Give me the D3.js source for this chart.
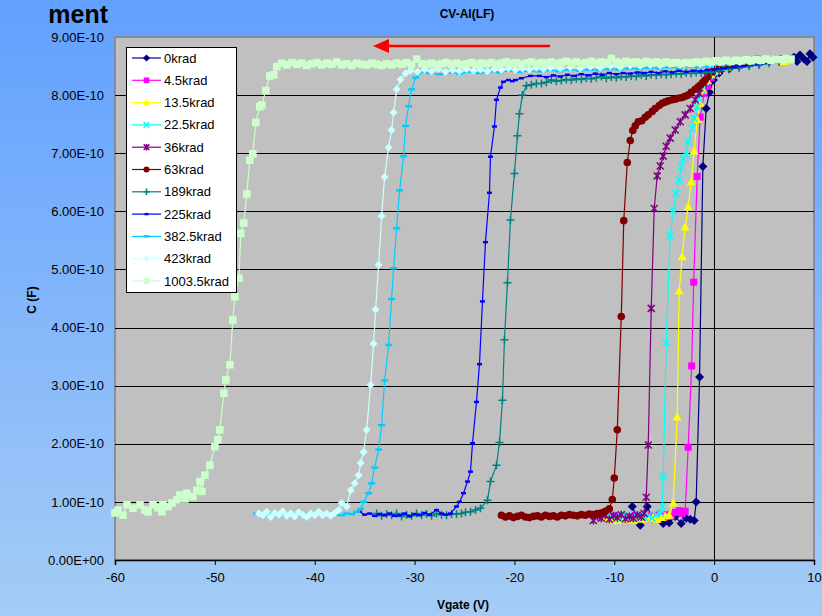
<!DOCTYPE html>
<html><head><meta charset="utf-8">
<script src="https://cdn.jsdelivr.net/npm/d3@7"></script>
<style>body{margin:0;overflow:hidden;background:#8ab8f8;} svg{display:block;} text{font-family:Arial,"Liberation Sans",sans-serif;}</style>
</head><body>
<svg id="c" width="822" height="616"></svg>
<script>
// ---------------- data (C in units of 1e-10 F, V in volts) ----------------
const seriesNames = ["0krad","4.5krad","13.5krad","22.5krad","36krad","63krad","189krad","225krad","382.5krad","423krad","1003.5krad"];
const seriesColors = ["#000080","#FF00FF","#FFFF00","#00FFFF","#800080","#800000","#008080","#0000FF","#00CCFF","#CCFFFF","#CCFFCC"];
const seriesMarkers = ["diamond","square","triangle","x","star","circle","plus","dashS","dashL","diamondS","squareL"];
const xTicks = [-60,-50,-40,-30,-20,-10,0,10];
const xTickLabels = ["-60","-50","-40","-30","-20","-10","0","10"];
const yTicks = [0,1,2,3,4,5,6,7,8,9];
const yTickLabels = ["0.00E+00","1.00E-10","2.00E-10","3.00E-10","4.00E-10","5.00E-10","6.00E-10","7.00E-10","8.00E-10","9.00E-10"];

const d0krad = [[-8.2,0.92],[-7.4,0.60],[-6.7,0.92],[-6.2,0.72],[-5.6,0.78],[-5.1,0.63],[-4.5,0.64],[-3.9,0.75],[-3.3,0.63],[-2.8,0.72],[-2.4,0.70],[-2.0,0.68],[-1.8,1.00],[-1.46,3.15],[-1.13,6.77],[-0.8,7.77],[-0.47,8.05],[-0.07,8.26],[0.5,8.38],[1.5,8.45],[2.5,8.50],[3.5,8.53],[4.5,8.55],[5.5,8.58],[6.5,8.60],[7.3,8.62],[8.0,8.65],[8.3,8.58],[8.6,8.69],[9.0,8.62],[9.3,8.58],[9.6,8.71],[9.9,8.65]];
const d4_5krad = [[-10.7,0.74],[-10.3,0.71],[-9.9,0.76],[-9.5,0.72],[-9.1,0.75],[-8.7,0.70],[-8.3,0.74],[-7.9,0.77],[-7.5,0.72],[-7.1,0.75],[-6.7,0.71],[-6.3,0.76],[-5.9,0.73],[-5.5,0.77],[-5.1,0.74],[-4.7,0.78],[-4.3,0.75],[-3.9,0.82],[-3.5,0.85],[-3.2,0.80],[-2.9,0.84],[-2.6,1.94],[-2.25,3.34],[-2.05,4.78],[-1.7,6.60],[-1.4,7.62],[-1.0,8.03],[-0.67,8.15],[-0.3,8.30],[0.3,8.42],[1.3,8.48],[2.3,8.52],[3.3,8.55],[4.3,8.62],[5.3,8.60],[6.3,8.63],[7.2,8.60]];
const d13_5krad = [[-10.9,0.74],[-10.5,0.70],[-10.1,0.73],[-9.7,0.68],[-9.3,0.72],[-8.9,0.70],[-8.5,0.74],[-8.1,0.69],[-7.7,0.73],[-7.3,0.70],[-6.9,0.75],[-6.5,0.71],[-6.1,0.74],[-5.7,0.70],[-5.3,0.73],[-4.9,0.76],[-4.5,0.77],[-4.1,0.98],[-3.7,2.46],[-3.5,4.63],[-3.2,5.22],[-2.9,5.73],[-2.6,6.08],[-2.3,6.51],[-2.0,7.04],[-1.7,7.58],[-1.4,7.86],[-1.1,8.09],[-0.7,8.25],[-0.3,8.35],[0.3,8.42],[1.3,8.48],[2.3,8.52],[3.3,8.55],[4.3,8.57],[5.3,8.60],[6.3,8.62],[7.0,8.58],[7.6,8.60]];
const d22_5krad = [[-10.6,0.78],[-10.2,0.72],[-9.8,0.76],[-9.4,0.70],[-9.0,0.77],[-8.6,0.73],[-8.2,0.75],[-7.8,0.71],[-7.4,0.77],[-7.0,0.73],[-6.6,0.76],[-6.2,0.72],[-5.8,0.78],[-5.4,0.80],[-5.2,0.92],[-5.1,1.43],[-4.8,3.74],[-4.4,5.58],[-4.1,6.02],[-3.8,6.31],[-3.5,6.54],[-3.3,6.77],[-3.1,6.91],[-2.8,6.97],[-2.6,7.20],[-2.2,7.43],[-2.0,7.60],[-1.7,7.80],[-1.5,7.94],[-1.2,8.09],[-0.9,8.23],[-0.5,8.34],[0.0,8.40],[1.0,8.46],[2.0,8.50],[3.0,8.52],[4.0,8.55],[5.0,8.57],[6.0,8.60]];
const d36krad = [[-12.1,0.68],[-11.7,0.75],[-11.3,0.72],[-10.9,0.77],[-10.5,0.70],[-10.1,0.76],[-9.7,0.73],[-9.3,0.78],[-8.9,0.71],[-8.5,0.75],[-8.1,0.72],[-7.7,0.77],[-7.3,0.74],[-7.0,0.80],[-6.8,1.08],[-6.6,1.98],[-6.3,4.33],[-6.0,6.05],[-5.7,6.61],[-5.4,6.78],[-5.1,6.95],[-4.8,7.12],[-4.4,7.26],[-3.9,7.40],[-3.4,7.54],[-2.9,7.66],[-2.4,7.77],[-1.9,7.92],[-1.5,8.03],[-1.1,8.20],[-0.7,8.32],[-0.3,8.40],[0.5,8.46],[1.5,8.50],[2.5,8.52],[3.5,8.55],[4.5,8.58],[5.5,8.60],[6.5,8.62]];
const d63krad = [[-21.3,0.77],[-20.9,0.74],[-20.5,0.76],[-20.1,0.73],[-19.7,0.75],[-19.3,0.77],[-18.9,0.74],[-18.5,0.73],[-18.1,0.75],[-17.7,0.76],[-17.3,0.74],[-16.9,0.77],[-16.5,0.75],[-16.1,0.76],[-15.7,0.74],[-15.3,0.77],[-14.9,0.76],[-14.5,0.78],[-14.1,0.77],[-13.7,0.76],[-13.3,0.78],[-12.9,0.77],[-12.5,0.79],[-12.1,0.78],[-11.7,0.80],[-11.3,0.81],[-10.9,0.84],[-10.5,0.88],[-10.2,1.04],[-10.0,1.41],[-9.7,2.24],[-9.3,4.19],[-9.05,5.84],[-8.7,6.84],[-8.4,7.22],[-8.15,7.39],[-7.9,7.47],[-7.6,7.54],[-7.25,7.56],[-6.9,7.62],[-6.6,7.66],[-6.2,7.72],[-5.9,7.77],[-5.5,7.82],[-5.2,7.86],[-4.9,7.88],[-4.6,7.90],[-4.2,7.92],[-3.9,7.93],[-3.5,7.95],[-3.2,7.96],[-2.9,7.98],[-2.6,8.00],[-2.3,8.05],[-1.9,8.10],[-1.6,8.14],[-1.4,8.17],[-1.1,8.22],[-0.9,8.26],[-0.6,8.33],[-0.2,8.40],[0.5,8.45],[1.5,8.50],[2.5,8.52],[3.5,8.55],[4.5,8.57],[5.5,8.60],[6.5,8.62],[7.5,8.63]];
const d189krad = [[-33.8,0.80],[-33.3,0.76],[-32.8,0.79],[-32.3,0.77],[-31.8,0.80],[-31.3,0.75],[-30.8,0.78],[-30.3,0.76],[-29.8,0.80],[-29.3,0.77],[-28.8,0.79],[-28.3,0.76],[-27.8,0.80],[-27.3,0.78],[-26.8,0.77],[-26.3,0.79],[-25.8,0.79],[-25.3,0.80],[-24.9,0.82],[-24.4,0.83],[-23.9,0.86],[-23.4,0.89],[-22.7,1.03],[-22.4,1.35],[-21.8,1.63],[-21.5,2.02],[-21.2,2.75],[-21.0,3.79],[-20.7,4.77],[-20.4,5.85],[-20.0,6.65],[-19.7,7.30],[-19.5,7.68],[-19.2,8.00],[-18.8,8.16],[-18.3,8.18],[-17.8,8.20],[-17.3,8.20],[-16.8,8.22],[-16.3,8.26],[-15.8,8.24],[-15.3,8.25],[-14.8,8.27],[-14.3,8.26],[-13.8,8.28],[-13.3,8.27],[-12.8,8.29],[-12.3,8.28],[-11.8,8.30],[-11.3,8.32],[-10.8,8.29],[-10.3,8.31],[-9.8,8.30],[-9.3,8.32],[-8.8,8.31],[-8.3,8.33],[-7.8,8.32],[-7.3,8.35],[-6.8,8.33],[-6.3,8.35],[-5.8,8.34],[-5.3,8.36],[-4.8,8.35],[-4.3,8.36],[-3.8,8.37],[-3.3,8.36],[-2.8,8.38],[-2.3,8.37],[-1.8,8.39],[-1.3,8.38],[-0.8,8.40],[-0.3,8.39],[0.5,8.42],[1.5,8.45],[2.5,8.47],[3.5,8.50],[4.5,8.52],[5.5,8.55],[6.5,8.57]];
const d225krad = [[-35.5,0.83],[-35.0,0.78],[-34.5,0.80],[-34.0,0.76],[-33.5,0.79],[-33.0,0.77],[-32.5,0.80],[-32.0,0.76],[-31.5,0.77],[-31.0,0.80],[-30.5,0.75],[-30.0,0.79],[-29.5,0.77],[-29.0,0.81],[-28.5,0.78],[-27.8,0.86],[-27.3,0.80],[-26.9,0.78],[-26.4,0.80],[-25.8,0.92],[-25.5,1.00],[-25.1,1.15],[-24.7,1.35],[-24.4,1.52],[-24.2,2.01],[-23.8,2.72],[-23.5,3.37],[-23.2,4.45],[-22.9,5.47],[-22.5,6.32],[-22.4,6.94],[-22.0,7.46],[-21.8,7.92],[-21.4,8.13],[-21.1,8.23],[-20.6,8.26],[-20.2,8.24],[-19.9,8.26],[-19.3,8.29],[-18.4,8.33],[-17.5,8.33],[-16.8,8.31],[-16.1,8.34],[-15.4,8.32],[-14.7,8.35],[-14.0,8.33],[-13.3,8.36],[-12.6,8.34],[-11.9,8.37],[-11.2,8.35],[-10.5,8.38],[-9.8,8.36],[-9.1,8.38],[-8.4,8.37],[-7.7,8.39],[-7.0,8.38],[-6.3,8.40],[-5.6,8.38],[-4.9,8.41],[-4.2,8.39],[-3.5,8.42],[-2.8,8.40],[-2.1,8.42],[-1.4,8.41],[-0.7,8.43],[0.0,8.44],[1.0,8.46],[2.0,8.48],[3.0,8.50],[4.0,8.53],[5.0,8.55],[6.0,8.57]];
const d382_5krad = [[-45.8,0.80],[-45.3,0.77],[-44.8,0.78],[-44.3,0.80],[-43.8,0.76],[-43.3,0.79],[-42.8,0.77],[-42.3,0.80],[-41.8,0.78],[-41.3,0.76],[-40.8,0.79],[-40.3,0.77],[-39.8,0.80],[-39.3,0.78],[-38.8,0.76],[-38.3,0.79],[-37.8,0.78],[-37.3,0.77],[-36.8,0.80],[-36.3,0.79],[-35.8,0.83],[-35.4,0.88],[-35.1,1.00],[-34.6,1.15],[-34.3,1.32],[-34.0,1.59],[-33.6,1.90],[-33.3,2.32],[-33.0,3.09],[-32.6,3.70],[-32.3,4.49],[-32.1,5.02],[-31.8,5.71],[-31.5,6.36],[-31.1,6.95],[-30.9,7.47],[-30.6,7.81],[-30.3,8.10],[-29.9,8.30],[-29.2,8.40],[-28.5,8.38],[-27.5,8.36],[-26.5,8.39],[-25.5,8.37],[-24.5,8.40],[-23.5,8.38],[-22.5,8.41],[-21.5,8.39],[-20.5,8.42],[-19.5,8.40],[-18.5,8.42],[-17.5,8.41],[-16.5,8.43],[-15.5,8.41],[-14.5,8.44],[-13.5,8.42],[-12.5,8.44],[-11.5,8.43],[-10.5,8.45],[-9.5,8.44],[-8.5,8.46],[-7.5,8.45],[-6.5,8.47],[-5.5,8.46],[-4.5,8.48],[-3.5,8.47],[-2.5,8.49],[-1.5,8.48],[-0.5,8.50],[0.5,8.52],[1.5,8.53],[2.5,8.55],[3.5,8.56],[4.5,8.58]];
const d423krad = [[-45.6,0.80],[-45.2,0.77],[-44.8,0.83],[-44.4,0.74],[-44.0,0.81],[-43.6,0.78],[-43.2,0.84],[-42.8,0.76],[-42.4,0.80],[-42.0,0.75],[-41.6,0.82],[-41.2,0.78],[-40.8,0.74],[-40.4,0.80],[-40.0,0.77],[-39.6,0.83],[-39.2,0.77],[-38.8,0.80],[-38.4,0.76],[-38.0,0.81],[-37.6,0.86],[-37.3,0.98],[-36.8,0.92],[-36.4,1.20],[-36.0,1.32],[-35.6,1.46],[-35.4,1.67],[-35.1,1.86],[-34.8,2.24],[-34.4,3.01],[-34.1,3.72],[-33.9,4.31],[-33.6,5.08],[-33.3,5.92],[-33.0,6.59],[-32.6,7.10],[-32.3,7.40],[-32.1,7.70],[-31.8,8.10],[-31.4,8.27],[-30.9,8.37],[-30.4,8.42],[-29.7,8.40],[-29.0,8.44],[-28.3,8.41],[-27.6,8.45],[-26.9,8.40],[-26.2,8.43],[-25.5,8.41],[-24.8,8.45],[-24.1,8.42],[-23.4,8.44],[-22.7,8.41],[-22.0,8.45],[-21.3,8.43],[-20.6,8.46],[-19.9,8.43],[-19.2,8.46],[-18.5,8.44],[-17.8,8.47],[-17.1,8.45],[-16.4,8.47],[-15.4,8.46],[-14.4,8.48],[-13.4,8.46],[-12.4,8.49],[-11.4,8.47],[-10.4,8.50],[-9.4,8.48],[-8.4,8.51],[-7.4,8.50],[-6.4,8.52],[-5.4,8.51],[-4.4,8.53],[-3.4,8.52],[-2.4,8.54],[-1.4,8.53],[-0.4,8.55],[0.6,8.56],[1.6,8.57],[2.6,8.57],[3.6,8.58],[4.6,8.59],[5.6,8.60]];
const d1003_5krad = [[-60.0,0.81],[-59.7,0.86],[-59.2,0.77],[-58.8,0.95],[-58.2,0.89],[-57.5,0.95],[-57.0,0.86],[-56.7,0.83],[-56.2,0.95],[-55.7,0.90],[-55.3,0.83],[-55.2,0.95],[-54.7,0.92],[-54.3,0.98],[-53.8,1.04],[-53.5,1.12],[-53.0,1.05],[-52.8,1.15],[-52.2,1.09],[-51.8,1.20],[-51.5,1.35],[-51.3,1.18],[-51.0,1.46],[-50.5,1.63],[-50.0,1.95],[-49.7,2.07],[-49.5,2.24],[-49.1,2.87],[-48.9,3.10],[-48.5,3.36],[-48.2,4.13],[-48.0,4.53],[-47.6,4.85],[-47.4,5.62],[-47.1,5.80],[-46.8,6.30],[-46.5,6.88],[-46.2,6.99],[-45.9,7.53],[-45.5,7.80],[-45.3,7.83],[-44.9,8.08],[-44.5,8.33],[-44.1,8.35],[-43.8,8.49],[-43.3,8.55],[-42.8,8.52],[-42.3,8.56],[-41.8,8.53],[-41.3,8.55],[-40.8,8.51],[-40.3,8.54],[-39.8,8.56],[-39.3,8.52],[-38.8,8.55],[-38.3,8.53],[-37.8,8.57],[-37.3,8.52],[-36.8,8.54],[-36.3,8.51],[-35.8,8.55],[-35.3,8.53],[-34.8,8.52],[-34.3,8.55],[-33.8,8.53],[-33.3,8.51],[-32.8,8.54],[-32.3,8.52],[-31.8,8.55],[-31.3,8.53],[-30.8,8.56],[-30.3,8.52],[-29.8,8.62],[-29.3,8.54],[-28.8,8.53],[-28.3,8.55],[-27.8,8.52],[-27.3,8.54],[-26.8,8.56],[-26.3,8.53],[-25.8,8.55],[-25.3,8.52],[-24.8,8.54],[-24.3,8.56],[-23.8,8.53],[-23.3,8.55],[-22.8,8.54],[-22.3,8.56],[-21.8,8.53],[-21.3,8.55],[-20.8,8.57],[-20.3,8.54],[-19.8,8.56],[-19.3,8.53],[-18.8,8.55],[-18.3,8.57],[-17.8,8.54],[-17.3,8.56],[-16.8,8.55],[-16.3,8.57],[-15.8,8.54],[-15.3,8.56],[-14.8,8.58],[-14.3,8.55],[-13.8,8.57],[-13.3,8.54],[-12.8,8.56],[-12.3,8.58],[-11.8,8.55],[-11.3,8.57],[-10.8,8.56],[-10.3,8.63],[-9.8,8.57],[-9.3,8.55],[-8.8,8.58],[-8.3,8.56],[-7.8,8.57],[-7.3,8.55],[-6.8,8.58],[-6.3,8.56],[-5.8,8.57],[-5.3,8.55],[-4.8,8.57],[-4.3,8.55],[-3.8,8.56],[-3.3,8.54],[-2.8,8.56],[-2.3,8.55],[-1.8,8.57],[-1.3,8.56],[-0.8,8.58],[-0.3,8.57],[0.2,8.59],[0.7,8.58],[1.2,8.60],[1.7,8.58],[2.2,8.60],[2.7,8.59],[3.2,8.61],[3.7,8.59],[4.2,8.61],[4.7,8.60],[5.2,8.62],[5.7,8.60],[6.2,8.62],[6.7,8.61],[7.2,8.63],[7.7,8.62]];
const seriesData = [d0krad,d4_5krad,d13_5krad,d22_5krad,d36krad,d63krad,d189krad,d225krad,d382_5krad,d423krad,d1003_5krad];

// ---------------- drawing ----------------
const svg = d3.select("#c");
const W = 822, H = 616;
const plot = {left:115, right:814, top:37, bottom:560};

const defs = svg.append("defs");
const grad = defs.append("linearGradient").attr("id","bg").attr("x1",0).attr("y1",0).attr("x2",0).attr("y2",1);
grad.append("stop").attr("offset","0%").attr("stop-color","#62A0FF");
grad.append("stop").attr("offset","100%").attr("stop-color","#A4CCF5");
svg.append("rect").attr("width",W).attr("height",H).attr("fill","url(#bg)");

// partial slide title (fits inside the page)
svg.append("text").attr("x",108).attr("y",23).attr("text-anchor","end")
  .attr("font-size",25).attr("font-weight","bold").attr("fill","#000").text("ment");

const x = d3.scaleLinear().domain([-60,10]).range([plot.left,plot.right]);
const y = d3.scaleLinear().domain([0,9]).range([plot.bottom,plot.top]);

svg.append("rect").attr("x",plot.left).attr("y",plot.top)
  .attr("width",plot.right-plot.left).attr("height",plot.bottom-plot.top)
  .attr("fill","#C0C0C0").attr("stroke","#808080").attr("stroke-width",1.5);

// horizontal gridlines
svg.append("g").selectAll("line").data(yTicks.filter(d=>d>0 && d<9)).join("line")
  .attr("x1",plot.left).attr("x2",plot.right)
  .attr("y1",d=>Math.round(y(d))+0.5).attr("y2",d=>Math.round(y(d))+0.5)
  .attr("stroke","#000").attr("stroke-width",1);

// vertical axis at V=0
svg.append("line").attr("x1",Math.round(x(0))+0.5).attr("x2",Math.round(x(0))+0.5)
  .attr("y1",plot.top).attr("y2",plot.bottom).attr("stroke","#000").attr("stroke-width",1);

// x axis
const xAxis = d3.axisBottom(x).tickValues(xTicks).tickFormat((d,i)=>xTickLabels[i]).tickSize(5).tickPadding(8);
const gx = svg.append("g").attr("transform",`translate(0,${plot.bottom})`).call(xAxis);
gx.select(".domain").attr("stroke","#000").attr("stroke-width",1.5);
gx.selectAll(".tick line").attr("stroke","#000");
gx.selectAll("text").attr("font-size",13).attr("fill","#000").attr("font-family","Arial, 'Liberation Sans', sans-serif");

// y axis labels
const yAxis = d3.axisLeft(y).tickValues(yTicks).tickFormat((d,i)=>yTickLabels[i]).tickSize(0).tickPadding(11);
const gy = svg.append("g").attr("transform",`translate(${plot.left},0)`).call(yAxis);
gy.select(".domain").remove();
gy.selectAll("text").attr("font-size",13).attr("fill","#000").attr("font-family","Arial, 'Liberation Sans', sans-serif");

// titles
svg.append("text").attr("x",467).attr("y",18).attr("text-anchor","middle")
  .attr("font-size",12).attr("font-weight","bold").attr("fill","#000").text("CV-Al(LF)");
svg.append("text").attr("x",463).attr("y",609).attr("text-anchor","middle")
  .attr("font-size",12).attr("font-weight","bold").attr("fill","#000").text("Vgate (V)");
svg.append("text").attr("transform","translate(36,300) rotate(-90)").attr("text-anchor","middle")
  .attr("font-size",12).attr("font-weight","bold").attr("fill","#000").text("C (F)");

// markers
function drawMarker(g, type, color, scale){
  const s = scale || 1;
  switch(type){
    case "diamond": g.append("path").attr("d",`M0,${-4.5*s}L${4.5*s},0L0,${4.5*s}L${-4.5*s},0Z`).attr("fill",color); break;
    case "diamondS": g.append("path").attr("d",`M0,${-4*s}L${4*s},0L0,${4*s}L${-4*s},0Z`).attr("fill",color); break;
    case "square": g.append("rect").attr("x",-3.5*s).attr("y",-3.5*s).attr("width",7*s).attr("height",7*s).attr("fill",color); break;
    case "squareL": g.append("rect").attr("x",-3.8*s).attr("y",-3.8*s).attr("width",7.6*s).attr("height",7.6*s).attr("fill",color); break;
    case "triangle": g.append("path").attr("d",`M0,${-4.5*s}L${4.5*s},${3.5*s}L${-4.5*s},${3.5*s}Z`).attr("fill",color); break;
    case "x": g.append("path").attr("d",`M${-3.5*s},${-3.5*s}L${3.5*s},${3.5*s}M${-3.5*s},${3.5*s}L${3.5*s},${-3.5*s}`).attr("stroke",color).attr("stroke-width",1.5); break;
    case "star": g.append("path").attr("d",`M${-3.5*s},${-3.5*s}L${3.5*s},${3.5*s}M${-3.5*s},${3.5*s}L${3.5*s},${-3.5*s}M0,${-4*s}L0,${4*s}`).attr("stroke",color).attr("stroke-width",1.5); break;
    case "circle": g.append("circle").attr("r",3.8*s).attr("fill",color); break;
    case "plus": g.append("path").attr("d",`M${-4*s},0L${4*s},0M0,${-4*s}L0,${4*s}`).attr("stroke",color).attr("stroke-width",1.5); break;
    case "dashS": g.append("rect").attr("x",-2.5*s).attr("y",-1.2).attr("width",5*s).attr("height",2.4).attr("fill",color); break;
    case "dashL": g.append("rect").attr("x",-3.5*s).attr("y",-1.2).attr("width",7*s).attr("height",2.4).attr("fill",color); break;
  }
}

const line = d3.line().x(d=>x(d[0])).y(d=>y(d[1]));
const seriesG = svg.append("g");
seriesData.forEach((data,i)=>{
  const g = seriesG.append("g");
  g.append("path").attr("d",line(data)).attr("fill","none").attr("stroke",seriesColors[i]).attr("stroke-width",1.2);
  g.selectAll("g.m").data(data).join("g").attr("class","m")
    .attr("transform",d=>`translate(${x(d[0])},${y(d[1])})`)
    .each(function(){ drawMarker(d3.select(this), seriesMarkers[i], seriesColors[i], 1); });
});

// red sweep arrow
svg.append("line").attr("x1",550).attr("x2",386).attr("y1",46).attr("y2",46).attr("stroke","#FF0000").attr("stroke-width",2.5);
svg.append("path").attr("d","M373,46L389,39L389,53Z").attr("fill","#FF0000");

// legend
const lg = svg.append("g");
lg.append("rect").attr("x",126.5).attr("y",47.5).attr("width",110).attr("height",245)
  .attr("fill","#FFFFFF").attr("stroke","#000").attr("stroke-width",1);
seriesNames.forEach((name,i)=>{
  const cy = 58 + i*22.3;
  lg.append("line").attr("x1",132).attr("x2",161).attr("y1",cy).attr("y2",cy).attr("stroke",seriesColors[i]).attr("stroke-width",1.2);
  const mg = lg.append("g").attr("transform",`translate(146.5,${cy})`);
  drawMarker(mg, seriesMarkers[i], seriesColors[i], 0.8);
  lg.append("text").attr("x",164).attr("y",cy+4.5).attr("font-size",13).attr("fill","#000").text(name);
});
</script>
</body></html>
